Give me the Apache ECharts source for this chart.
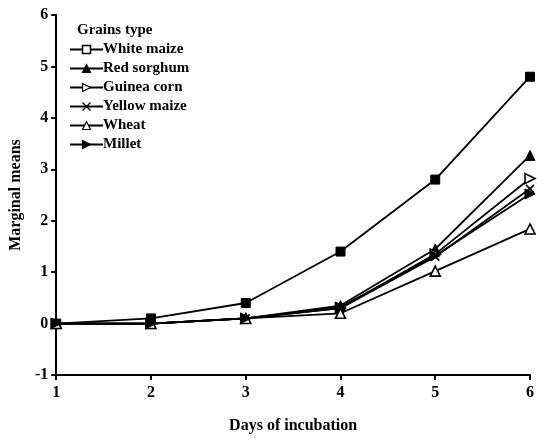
<!DOCTYPE html>
<html><head><meta charset="utf-8">
<script src="https://cdn.jsdelivr.net/npm/echarts@6/dist/echarts.min.js"></script>
<style>html,body{margin:0;padding:0;background:#fff}#c{width:537px;height:443px}</style>
</head><body><div id="c"></div>
<script>
const days = [1, 2, 3, 4, 5, 6];
const yTicks = [-1, 0, 1, 2, 3, 4, 5, 6];
const whiteMaize = [0, 0.1, 0.4, 1.4, 2.8, 4.8];
const redSorghum = [0, 0, 0.1, 0.35, 1.45, 3.27];
const guineaCorn = [0, 0, 0.1, 0.3, 1.35, 2.82];
const yellowMaize = [0, 0, 0.1, 0.3, 1.3, 2.62];
const wheat = [0, 0, 0.1, 0.2, 1.02, 1.84];
const millet = [0, 0, 0.1, 0.32, 1.32, 2.52];

const F = '"Liberation Serif", "Times New Roman", serif';
function pts(arr){ return arr.map((v,i)=>[days[i], v]); }
const XPATH = 'path://M0,0L10,10M10,0L0,10';
function mk(name, data, symbol, open, rotate, size){
  return {
    name, type:'line', data: pts(data), symbol, symbolSize: size || 9,
    symbolRotate: rotate || 0, showSymbol:true,
    lineStyle:{color:'#000', width:1.8},
    itemStyle:{color: open ? '#fff' : '#000', borderColor:'#000', borderWidth: open ? 1.6 : 1},
    emphasis:{disabled:true}, animation:false
  };
}
const series = [
  mk('White maize', whiteMaize, 'rect', false, 0, 9),
  mk('Red sorghum', redSorghum, 'triangle', false, 0, 10),
  mk('Guinea corn', guineaCorn, 'triangle', true, -90, 10),
  mk('Yellow maize', yellowMaize, XPATH, false, 0, 8),
  mk('Wheat', wheat, 'triangle', true, 0, 10),
  mk('Millet', millet, 'triangle', false, -90, 10)
];
series[3].itemStyle.borderWidth = 1.8;

const chart = echarts.init(document.getElementById('c'), null, {renderer:'canvas'});
chart.setOption({
  backgroundColor:'#fff',
  animation:false,
  title:{text:'Grains type', left:72, top:18, textStyle:{fontFamily:F, fontSize:15, fontWeight:'bold', color:'#000'}},
  legend:{
    orient:'vertical', left:64, top:37, itemGap:4, itemWidth:33, itemHeight:10,
    itemStyle:{borderWidth:1.2},
    textStyle:{fontFamily:F, fontSize:15, fontWeight:'bold', color:'#000', lineHeight:15, padding:[0,0,0,-5]},
    data:[
      {name:'White maize', itemStyle:{color:'#fff', borderColor:'#000', borderWidth:1.5}},
      'Red sorghum','Guinea corn','Yellow maize','Wheat','Millet'
    ]
  },
  grid:{left:56, right:5, top:15, bottom:68, containLabel:false},
  xAxis:{
    type:'value', min:1, max:6, interval:1,
    name:'Days of incubation', nameLocation:'middle', nameGap:43,
    nameTextStyle:{fontFamily:F, fontSize:16, fontWeight:'bold', color:'#000'},
    axisLine:{onZero:false, lineStyle:{color:'#000', width:2}},
    axisTick:{show:true, length:5, lineStyle:{color:'#000', width:2}},
    axisLabel:{fontFamily:F, fontSize:16, fontWeight:'bold', color:'#000', margin:10},
    splitLine:{show:false}
  },
  yAxis:{
    type:'value', min:-1, max:6, interval:1,
    name:'Marginal means', nameLocation:'middle', nameGap:29,
    nameTextStyle:{fontFamily:F, fontSize:16, fontWeight:'bold', color:'#000'},
    axisLine:{show:true, onZero:false, lineStyle:{color:'#000', width:2}},
    axisTick:{show:true, length:5, lineStyle:{color:'#000', width:2}},
    axisLabel:{fontFamily:F, fontSize:16, fontWeight:'bold', color:'#000', margin:8,
      formatter:(v)=> yTicks.includes(v) ? String(v) : ''},
    splitLine:{show:false}
  },
  series
});
</script></body></html>
